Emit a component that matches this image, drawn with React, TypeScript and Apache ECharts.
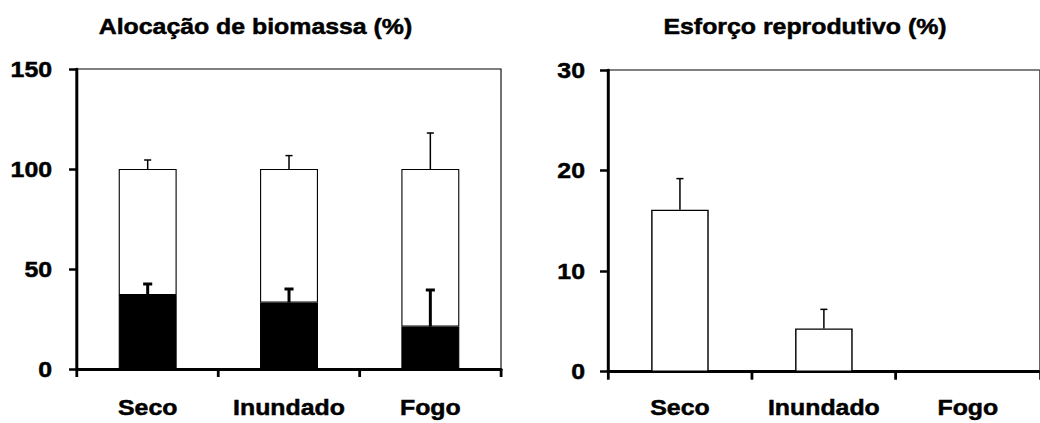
import React, { useEffect, useRef } from "react";
import * as echarts from "echarts";

const categories = ["Seco", "Inundado", "Fogo"];
// Alocação de biomassa (%)
const blackValues = [37, 33.2, 21.2];
const blackErrTop = [42.5, 40, 39.5];
const totalValues = [100, 100, 100];
const whiteErrTop = [104.5, 106.7, 118];
// Esforço reprodutivo (%)
const reprodValues = [16.1, 4.3, 0];
const reprodErrTop = [19.2, 6.2, 0];

const leftTicks = { min: 0, max: 150, interval: 50 };
const rightTicks = { min: 0, max: 30, interval: 10 };

const STRETCH = 1.105;
const BASE_W = 941;
const FONT = "'Liberation Sans', Arial, Helvetica, sans-serif";
const FS = 22.5;

const textExtra = { textBorderColor: "#000", textBorderWidth: 0.5 };

function errorSeries(
  xIdx: number,
  yIdx: number,
  lows: number[],
  highs: number[],
  stemW: number,
  capW: number,
  capHalf: number
) {
  return {
    type: "custom",
    xAxisIndex: xIdx,
    yAxisIndex: yIdx,
    z: 10,
    silent: true,
    encode: { x: 0, y: [1, 2] },
    data: lows.map((lo, i) => [i, lo, highs[i]]),
    renderItem: (params: any, api: any) => {
      const x = api.value(0);
      const lo = api.value(1);
      const hi = api.value(2);
      if (!(hi > lo)) return null;
      const p0 = api.coord([x, lo]);
      const p1 = api.coord([x, hi]);
      return {
        type: "group",
        children: [
          {
            type: "line",
            shape: { x1: p0[0], y1: p0[1], x2: p1[0], y2: p1[1] },
            style: { stroke: "#000", lineWidth: stemW },
          },
          {
            type: "line",
            shape: { x1: p1[0] - capHalf, y1: p1[1], x2: p1[0] + capHalf, y2: p1[1] },
            style: { stroke: "#000", lineWidth: capW },
          },
        ],
      };
    },
  };
}

function xAxisCfg(grid: number, margin: number) {
  return {
    type: "category",
    gridIndex: grid,
    data: categories,
    boundaryGap: true,
    axisLine: { show: true, lineStyle: { color: "#000", width: 3 } },
    axisTick: { show: true, length: 8, inside: false, lineStyle: { color: "#000", width: 2.5 } },
    axisLabel: {
      color: "#000",
      fontSize: FS,
      fontWeight: "bold",
      fontFamily: FONT,
      margin,
      interval: 0,
      ...textExtra,
    },
    splitLine: { show: false },
  };
}

function yAxisCfg(grid: number, ticks: { min: number; max: number; interval: number }, margin: number) {
  return {
    type: "value",
    gridIndex: grid,
    min: ticks.min,
    max: ticks.max,
    interval: ticks.interval,
    axisLine: { show: true, lineStyle: { color: "#000", width: 2.7 } },
    axisTick: { show: true, length: 7.2, inside: false, lineStyle: { color: "#000", width: 2.5 } },
    axisLabel: {
      color: "#000",
      fontSize: FS,
      fontWeight: "bold",
      fontFamily: FONT,
      margin,
      ...textExtra,
    },
    splitLine: { show: false },
  };
}

export default function App() {
  const ref = useRef<HTMLDivElement>(null);

  useEffect(() => {
    if (!ref.current) return;
    const chart = echarts.init(ref.current, null, { renderer: "svg" });
    const whiteValues = totalValues.map((t, i) => t - blackValues[i]);

    chart.setOption({
      animation: false,
      backgroundColor: "#fff",
      title: [
        {
          text: "Alocação de biomassa (%)",
          left: 231.2,
          top: 14.5,
          textAlign: "center",
          padding: 0,
          textStyle: { fontSize: FS, fontWeight: "bold", color: "#000", fontFamily: FONT, ...textExtra },
        },
        {
          text: "Esforço reprodutivo (%)",
          left: 728.5,
          top: 14.5,
          textAlign: "center",
          padding: 0,
          textStyle: { fontSize: FS, fontWeight: "bold", color: "#000", fontFamily: FONT, ...textExtra },
        },
      ],
      grid: [
        {
          left: 69.7,
          top: 69,
          width: 383.7,
          height: 300,
          show: true,
          borderColor: "#000",
          borderWidth: 1,
          backgroundColor: "#fff",
        },
        {
          left: 550.2,
          top: 70,
          width: 399.1,
          height: 301.7,
          show: true,
          borderColor: "#000",
          borderWidth: 1,
          backgroundColor: "#fff",
        },
      ],
      xAxis: [xAxisCfg(0, 27.25), xAxisCfg(1, 24.5)],
      yAxis: [yAxisCfg(0, leftTicks, 22.6), yAxisCfg(1, rightTicks, 20.8)],
      series: [
        {
          type: "bar",
          xAxisIndex: 0,
          yAxisIndex: 0,
          stack: "alloc",
          barWidth: "41%",
          data: blackValues,
          itemStyle: { color: "#000", borderColor: "#000", borderWidth: 1 },
        },
        {
          type: "bar",
          xAxisIndex: 0,
          yAxisIndex: 0,
          stack: "alloc",
          barWidth: "41%",
          data: whiteValues,
          itemStyle: { color: "#fff", borderColor: "#000", borderWidth: 1 },
        },
        errorSeries(0, 0, blackValues, blackErrTop, 2.7, 3, 4.1),
        errorSeries(0, 0, totalValues, whiteErrTop, 1.36, 1.5, 3.2),
        {
          type: "bar",
          xAxisIndex: 1,
          yAxisIndex: 1,
          barWidth: "40%",
          data: reprodValues,
          itemStyle: { color: "#fff", borderColor: "#000", borderWidth: 1.3 },
        },
        errorSeries(1, 1, reprodValues, reprodErrTop, 1.36, 1.5, 3.2),
      ],
    });

    return () => {
      chart.dispose();
    };
  }, []);

  return (
    <div
      style={{
        position: "absolute",
        left: 0,
        top: 0,
        width: 1040,
        height: 423,
        overflow: "hidden",
        background: "#fff",
      }}
    >
      <div
        ref={ref}
        style={{
          width: BASE_W,
          height: 423,
          transform: `scaleX(${STRETCH})`,
          transformOrigin: "0 0",
        }}
      />
    </div>
  );
}
